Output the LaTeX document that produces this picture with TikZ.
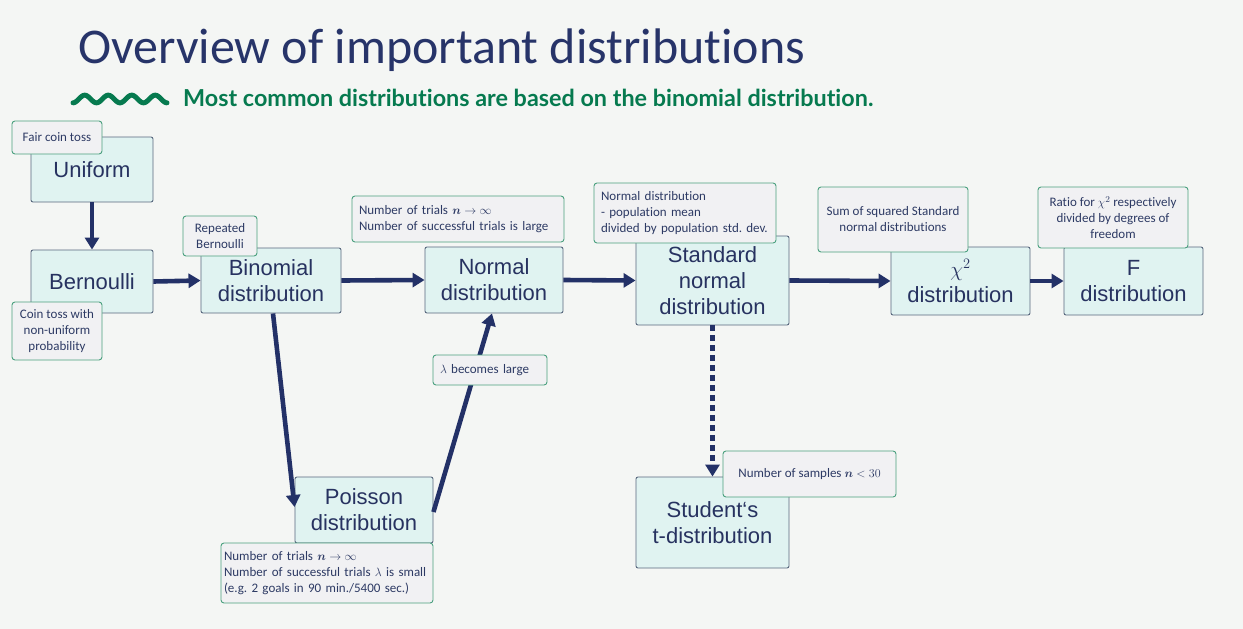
\documentclass[tikz,border=0pt]{standalone}
\usepackage{fontspec}
\usepackage{amsmath,bm}
\setmainfont{Liberation Sans}
\newfontfamily\notefont{Carlito}[Ligatures=NoCommon]
\newfontfamily\titlefont{Carlito}[Ligatures=NoCommon]
\newfontfamily\subfont{Lato}[Ligatures=NoCommon]
\usetikzlibrary{arrows.meta,calc}
\frenchspacing

\definecolor{bg}{RGB}{244,246,244}
\definecolor{boxfill}{RGB}{224,243,241}
\definecolor{boxline}{RGB}{88,104,126}
\definecolor{navy}{RGB}{39,50,96}
\definecolor{notefill}{RGB}{241,241,243}
\definecolor{noteline}{RGB}{74,160,126}
\definecolor{notetext}{RGB}{45,58,100}
\definecolor{arrowc}{RGB}{35,49,103}
\definecolor{titlec}{RGB}{39,52,105}
\definecolor{subgreen}{RGB}{6,122,79}

\tikzset{
  distbox/.style={draw=boxline, fill=boxfill, rounded corners=2pt, line width=0.9pt,
    text=navy, align=center, inner sep=0pt,
    font=\fontsize{22}{26}\selectfont},
  notebox/.style={draw=noteline, fill=notefill, rounded corners=3pt, line width=0.9pt,
    text=notetext, inner sep=0pt,
    font=\notefont\fontsize{13}{16}\selectfont},
  link/.style={draw=arrowc, line width=4.6pt, -{Triangle[length=12pt,width=14pt]}},
}

\begin{document}
\begin{tikzpicture}[x=1pt,y=-1pt]
  \fill[bg] (0,0) rectangle (1243,629);
  \useasboundingbox (0,0) rectangle (1243,629);

  % heading
  \node[anchor=base west, inner sep=0pt, text=titlec] (title) at (78,63)
    {\resizebox{727pt}{!}{\titlefont\fontsize{48}{50}\selectfont Overview of important distributions}};
  \draw[subgreen, line width=5pt, line cap=round]
    plot[domain=0:94, samples=120] ({73+\x},{99+3.8*cos(\x/23.5*360)});
  \node[anchor=base west, inner sep=0pt, text=subgreen] (subtitle) at (183,106)
    {\resizebox{690pt}{!}{\subfont\bfseries\fontsize{18}{20}\selectfont Most common distributions are based on the binomial distribution.}};

  % distributions
  \node[distbox, minimum width=122pt, minimum height=65pt] (unif) at (92,169.5) {Uniform};
  \node[distbox, minimum width=122pt, minimum height=63pt] (bern) at (92,281.5) {Bernoulli};
  \node[distbox, minimum width=140pt, minimum height=65pt] (binom) at (271,280.5) {Binomial\\distribution};
  \node[distbox, minimum width=138pt, minimum height=66pt] (norm) at (494,280) {Normal\\distribution};
  \node[distbox, minimum width=153pt, minimum height=89pt] (stdn) at (712.5,280.5) {Standard\\normal\\distribution};
  \node[distbox, minimum width=139pt, minimum height=68pt] (chi) at (960.5,281) {$\chi^2$\\distribution};
  \node[distbox, minimum width=139pt, minimum height=68pt] (fdist) at (1133.5,281) {F\\distribution};
  \node[distbox, minimum width=138pt, minimum height=66pt] (pois) at (364,510) {Poisson\\distribution};
  \node[distbox, minimum width=153pt, minimum height=91pt] (stud) at (712.5,522.5) {Student‘s\\t-distribution};

  % connectors
  \draw[link] (unif.south) -- (bern.north);
  \draw[link] (bern.east) -- (binom.west);
  \draw[link] (binom.east) -- (norm.west);
  \draw[link] (norm.east) -- (stdn.west);
  \draw[link] (stdn.east) -- (chi.west);
  \draw[link] (chi.east) -- (fdist.west);
  \draw[link] ($(binom.south)+(2,0)$) -- ($(pois.west)+(0,-3)$);
  \draw[link] ($(pois.east)+(0,2)$) -- ($(norm.south)+(-2,0)$);
  \draw[link, dash pattern=on 6pt off 4pt] (stdn.south) -- (stud.north);

  % annotations
  \node[notebox, minimum width=90pt, minimum height=33pt, align=center] (n1) at (57,137.5) {Fair coin toss};
  \node[notebox, minimum width=74pt, minimum height=40pt, align=center] (n2) at (220,236) {Repeated\\Bernoulli};
  \node[notebox, minimum width=90pt, minimum height=58pt, align=center] (n3) at (57,331) {Coin toss with\\non-uniform\\probability};
  \node[notebox, minimum height=46pt, text width=198pt, inner xsep=7pt, align=left] (n4) at (458,219)
    {Number of trials $\boldsymbol{n}\rightarrow\infty$\\Number of successful trials is large};
  \node[notebox, minimum height=60pt, text width=168pt, inner xsep=7pt, align=left] (n5) at (685,213)
    {Normal distribution\\- population mean\\divided by population std. dev.};
  \node[notebox, minimum width=150pt, minimum height=65pt, align=center] (n6) at (893,219.5)
    {Sum of squared Standard\\normal distributions};
  \node[notebox, minimum width=150pt, minimum height=61pt, align=center] (n7) at (1113,217.5)
    {Ratio for $\chi^2$ respectively\\divided by degrees of\\freedom};
  \node[notebox, minimum height=30pt, text width=100pt, inner xsep=7pt, align=left] (n8) at (490,370)
    {$\lambda$ becomes large};
  \node[notebox, minimum height=60pt, text width=206pt, inner xsep=3pt, align=left] (n9) at (327,573)
    {Number of trials $\boldsymbol{n}\rightarrow\infty$\\Number of successful trials $\lambda$ is small\\(e.g. 2 goals in 90 min./5400 sec.)};
  \node[notebox, minimum width=173pt, minimum height=46pt, align=center] (n10) at (809.5,474)
    {Number of samples $\boldsymbol{n}<30$};
\end{tikzpicture}
\end{document}
